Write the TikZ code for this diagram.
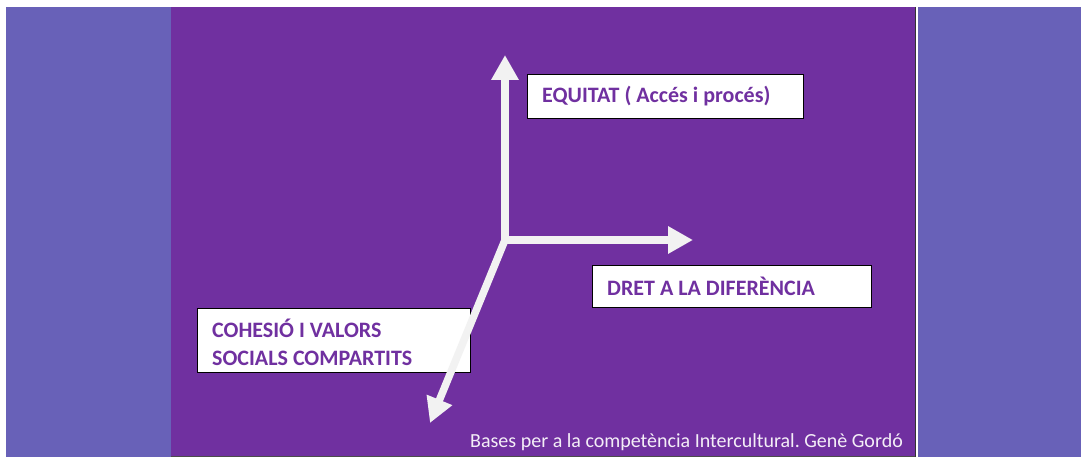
\documentclass[tikz,border=0pt]{standalone}
\usepackage{fontspec}
\setmainfont{Carlito}
\usetikzlibrary{arrows.meta}
\definecolor{bgblue}{HTML}{6861B8}
\definecolor{bgpurple}{HTML}{7030A0}
\definecolor{arrowwhite}{HTML}{F2F2F2}
\frenchspacing
\begin{document}
\begin{tikzpicture}[x=1pt,y=-1pt,
  axis/.style={draw=arrowwhite,line width=7.5pt,-{Triangle[width=26pt,length=25pt]},arrowwhite},
  labelbox/.style={draw=black,line width=1.2pt,fill=white,anchor=north west,inner sep=0pt},
  labeltext/.style={font=\bfseries\fontsize{22}{28}\selectfont,text=bgpurple,anchor=west,inner sep=0pt}]
\useasboundingbox (0,0) rectangle (1081,457);
\fill[white] (0,0) rectangle (1081,457);
\fill[bgblue] (6,7) rectangle (1081,457);
\fill[bgpurple] (171,7) rectangle (915,456);
\draw[black!80,line width=1pt] (915.5,7) -- (915.5,457);
\draw[black!70,line width=1pt] (171,456.5) -- (915,456.5);
\fill[white] (916,7) rectangle (918,457);
% boxes
\node[labelbox,minimum width=276pt,minimum height=44pt] (eqbox) at (527,74) {};
\node[labelbox,minimum width=279pt,minimum height=42pt] (drbox) at (592,265) {};
\node[labelbox,minimum width=273pt,minimum height=64pt] (cobox) at (197,308) {};
\node[labeltext] (eqtext) at (542,96) {EQUITAT ( Accés i procés)};
\node[labeltext] (drtext) at (607,286) {DRET A LA DIFERÈNCIA};
\node[labeltext,align=left] (cotext) at (212,342) {COHESIÓ I VALORS\\SOCIALS COMPARTITS};
% axes
\coordinate (O) at (505,240);
\coordinate (up) at (505,55);
\coordinate (right) at (693,240);
\coordinate (down) at (430,423);
\draw[axis] (O) -- (up);
\draw[axis] (O) -- (right);
\draw[axis] (O) -- (down);
\node[font=\fontsize{20}{24}\selectfont,text=white!92!bgpurple,anchor=east,inner sep=0pt] (foot) at (903,442) {Bases per a la competència Intercultural. Genè Gordó};
\end{tikzpicture}
\end{document}
